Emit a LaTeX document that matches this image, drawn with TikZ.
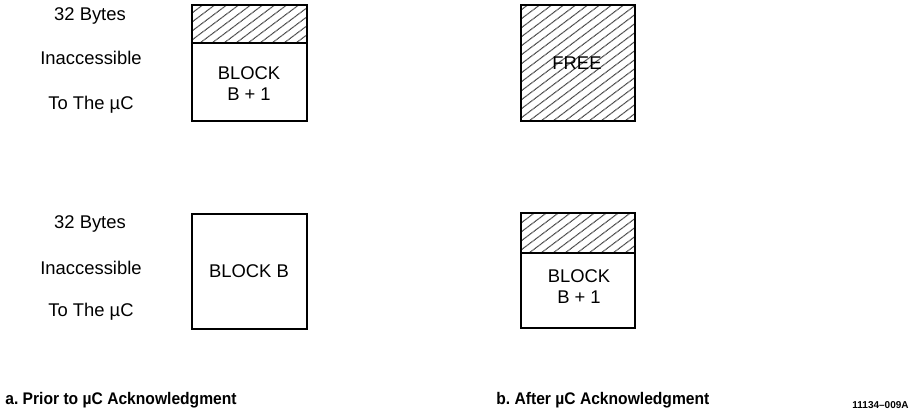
\documentclass[tikz,border=0pt]{standalone}
\usepackage{fontspec}
\setmainfont{Liberation Sans}
\usepackage{tikz}
\usetikzlibrary{positioning}
\frenchspacing

\tikzset{
  sidetext/.style={font=\fontsize{9.2}{11}\selectfont, inner sep=0pt},
  blocktext/.style={font=\fontsize{9.2}{10.5}\selectfont, align=center, inner sep=0pt},
  captiontext/.style={font=\bfseries\fontsize{8.4}{10}\selectfont, xscale=0.93, inner sep=0pt, anchor=west},
  blockline/.style={line width=1.4pt},
  hatchline/.style={line width=0.55pt, black!75, dash pattern=on 0.5pt off 0.25pt}
}

% hatched area: x1, y1 (top), x2, y2 (bottom)
\newcommand{\hatcharea}[4]{%
  \begin{scope}
    \clip (#1,#2) rectangle (#3,#4);
    \foreach \o in {-160,-148,...,130}
      \draw[hatchline] (#1+\o,#4) -- ({#1+\o+(#4-#2)/0.75},#2);
  \end{scope}}

\begin{document}
\begin{tikzpicture}[x=0.5pt,y=-0.5pt]
\useasboundingbox (0,0) rectangle (911,417);

% Prior, upper
\node[sidetext] (bytesA) at (90,16) {32 Bytes};
\node[sidetext] (inaccA) at (91,58) {Inaccessible};
\node[sidetext] (toA) at (91,105) {To The µC};
\hatcharea{192}{5}{307}{43}
\draw[blockline] (192,5) rectangle (307,121);
\draw[blockline] (192,43) -- (307,43);
\node[blocktext] (blockAup) at (249,84) {BLOCK\\B + 1};

% Prior, lower
\node[sidetext] (bytesB) at (90,224) {32 Bytes};
\node[sidetext] (inaccB) at (91,268) {Inaccessible};
\node[sidetext] (toB) at (91,312) {To The µC};
\draw[blockline] (192,214) rectangle (307,329);
\node[blocktext] (blockAlow) at (249,271) {BLOCK B};

% After, upper
\hatcharea{521}{5}{635}{121}
\draw[blockline] (521,5) rectangle (635,121);
\node[blocktext] (free) at (577,63) {FREE};

% After, lower
\hatcharea{521}{213}{635}{253}
\draw[blockline] (521,213) rectangle (635,328);
\draw[blockline] (521,253) -- (635,253);
\node[blocktext] (blockBlow) at (579,287) {BLOCK\\B + 1};

% Captions
\node[captiontext] (capA) at (5,400) {a. Prior to µC Acknowledgment};
\node[captiontext] (capB) at (496,400) {b. After µC Acknowledgment};
\node[font=\bfseries\fontsize{5}{6}\selectfont, inner sep=0pt, anchor=east] (figid) at (909,405) {11134--009A};
\end{tikzpicture}
\end{document}
